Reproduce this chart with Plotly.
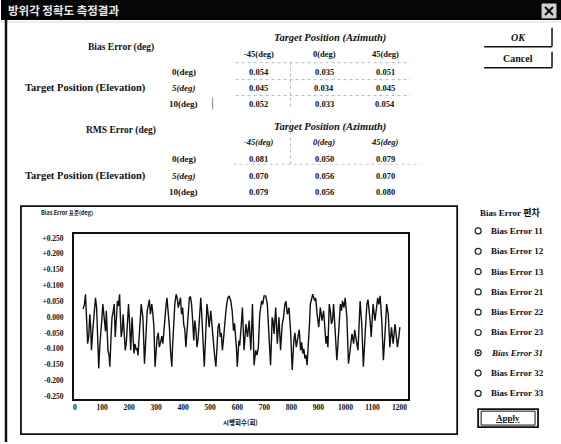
import plotly.graph_objects as go

# ---------------- data ----------------
title_text = "방위각 정확도 측정결과"
azimuth_labels = ["-45(deg)", "0(deg)", "45(deg)"]
elevation_labels = ["0(deg)", "5(deg)", "10(deg)"]
bias_values = [[0.054, 0.035, 0.051],
               [0.045, 0.034, 0.045],
               [0.052, 0.033, 0.054]]
rms_values = [[0.081, 0.050, 0.079],
              [0.070, 0.056, 0.070],
              [0.079, 0.056, 0.080]]
radio_labels = ["Bias Error 11", "Bias Error 12", "Bias Error 13",
                "Bias Error 21", "Bias Error 22", "Bias Error 23",
                "Bias Error 31", "Bias Error 32", "Bias Error 33"]
selected_radio = "Bias Error 31"

# main turning points
trial_x = [30, 39, 47, 55, 61, 76, 83, 88, 96, 103, 110, 116, 122, 129, 137, 145, 149, 157, 165, 171,
           178, 186, 194, 198, 206, 211, 218, 227, 233, 239, 245, 251, 257, 263, 272, 279, 284, 292, 296, 304,
           312, 318, 325, 333, 340, 345, 353, 358, 365, 374, 382, 390, 394, 402, 410, 416, 423, 431, 439, 443,
           451, 459, 465, 472, 478, 488, 496, 502, 512, 521, 529, 537, 545, 554, 561, 570, 576, 586, 594, 600,
           606, 613, 619, 625, 632, 638, 644, 650, 656, 662, 668, 678, 683, 690, 699, 705, 711, 717, 723, 729,
           736, 742, 748, 754, 760, 766, 776, 785, 791, 797, 803, 809, 818, 825, 834, 842, 850, 858, 864, 870,
           879, 886, 895, 901, 907, 913, 919, 928, 935, 940, 948, 956, 962, 968, 975, 981, 989, 999, 1005, 1011,
           1017, 1024, 1030, 1038, 1046, 1054, 1060, 1066, 1072, 1079, 1087, 1095, 1102, 1109, 1119, 1128, 1134, 1140, 1146, 1152,
           1158, 1164, 1170, 1176, 1183, 1192, 1201]
bias_error = [0.025, 0.072, -0.084, 0.009, -0.105, 0.061, -0.053, -0.162, -0.022, 0.041, -0.032, 0.020, -0.105, -0.157, -0.001, 0.041, -0.063, 0.051, 0.072, -0.063,
              0.009, -0.105, -0.032, 0.041, -0.105, -0.001, -0.115, -0.105, -0.121, -0.043, 0.041, -0.001, -0.147, -0.022, 0.041, 0.009, 0.041, -0.032, -0.157, -0.063,
              -0.095, -0.074, -0.084, -0.001, 0.061, 0.020, -0.105, -0.157, -0.001, 0.072, 0.030, 0.061, 0.009, -0.022, -0.095, -0.001, 0.061, 0.041, -0.074, -0.011,
              -0.095, -0.022, 0.061, -0.063, -0.157, 0.041, -0.032, 0.020, -0.095, -0.157, -0.032, -0.063, -0.105, -0.001, 0.041, 0.067, 0.051, -0.043, -0.053, -0.157,
              -0.074, -0.053, 0.030, -0.105, -0.022, -0.063, -0.011, -0.105, 0.041, -0.152, -0.105, -0.095, 0.009, 0.051, 0.067, 0.067, 0.041, -0.043, -0.152, -0.001,
              -0.053, 0.030, -0.084, -0.001, -0.105, -0.022, 0.041, 0.009, 0.030, -0.043, -0.167, -0.074, -0.095, -0.063, -0.105, -0.115, -0.131, -0.152, -0.084, 0.041,
              0.072, 0.051, 0.009, -0.032, 0.030, -0.011, 0.020, -0.084, -0.095, 0.041, -0.022, 0.041, -0.043, -0.136, -0.032, 0.041, 0.051, 0.061, -0.001, -0.147,
              -0.105, -0.053, -0.084, -0.063, -0.105, 0.051, -0.022, -0.157, -0.063, 0.041, 0.030, -0.063, 0.041, -0.011, 0.061, 0.067, -0.011, -0.136, -0.053, 0.041,
              0.009, -0.095, -0.032, -0.084, -0.022, -0.095, -0.032]

# finer wiggles read between the turning points
detail_x = [35, 43, 51, 58, 66, 71, 80, 86, 92, 100, 107, 113, 119, 126, 133, 141, 153, 161, 168, 175,
            182, 190, 202, 215, 222, 230, 236, 242, 248, 254, 260, 267, 275, 288, 300, 308, 321, 329, 336, 349,
            361, 369, 378, 386, 398, 406, 413, 419, 427, 435, 447, 455, 462, 468, 475, 483, 492, 507, 516, 525,
            533, 541, 549, 557, 565, 581, 590, 597, 609, 616, 622, 628, 647, 653, 659, 673, 694, 714, 720, 726,
            732, 745, 757, 771, 780, 800, 813, 829, 838, 846, 854, 867, 874, 890, 923, 931, 944, 952, 971, 985,
            994, 1020, 1034, 1042, 1050, 1063, 1075, 1083, 1091, 1114, 1123, 1187, 1196]
detail_error = [0.040, 0.010, -0.060, -0.030, -0.040, 0.020, 0.030, -0.120, -0.090, 0.000, 0.010, -0.045, -0.030, -0.120, -0.070, 0.015, -0.010, 0.035, 0.000, -0.040,
                -0.050, -0.080, -0.020, -0.060, -0.085, -0.098, -0.080, 0.000, 0.020, -0.070, -0.100, 0.020, 0.055, 0.010, -0.110, -0.050, -0.060, -0.030, 0.030, -0.030,
                -0.090, 0.040, 0.060, 0.045, 0.030, -0.040, -0.060, 0.030, 0.065, -0.010, -0.040, -0.070, 0.010, 0.020, -0.100, -0.060, 0.010, -0.030, -0.120, -0.090,
                -0.020, -0.050, -0.070, 0.010, 0.060, 0.020, -0.020, -0.100, -0.090, -0.010, -0.040, -0.070, -0.060, -0.040, -0.050, -0.120, 0.040, 0.000, -0.090, -0.080,
                -0.010, -0.020, -0.040, 0.000, 0.050, -0.100, -0.050, -0.040, -0.080, -0.100, -0.120, -0.020, 0.055, 0.060, -0.020, -0.060, 0.020, -0.010, -0.100, 0.020,
                0.030, -0.080, -0.040, -0.090, -0.030, -0.090, -0.010, 0.055, -0.010, 0.020, 0.040, -0.050, -0.070]

y_tick_vals = [0.25, 0.2, 0.15, 0.1, 0.05, 0.0, -0.05, -0.1, -0.15, -0.2, -0.25]
y_tick_text = ["+0.250", "+0.200", "+0.150", "+0.100", "+0.050", "0.000",
               "-0.050", "-0.100", "-0.150", "-0.200", "-0.250"]
x_tick_vals = [0, 100, 200, 300, 400, 500, 600, 700, 800, 900, 1000, 1100, 1200]

points = sorted(zip(trial_x + detail_x, bias_error + detail_error))
line_x = [p[0] for p in points]
line_y = [p[1] for p in points]

# ---------------- layout helpers ----------------
W, H = 561, 444
def fx(p):
    return p / W
def fy(p):
    return 1 - p / H

SERIF = "Liberation Serif, Noto Sans CJK KR, serif"
KFONT = "Noto Sans CJK KR, Liberation Serif, sans-serif"

fig = go.Figure()
fig.add_trace(go.Scatter(x=line_x, y=line_y, mode="lines",
                         line=dict(color="#111111", width=1.4), hoverinfo="skip"))

ann = []
shapes = []

def text(x, y, s, size=9, anchor="center", color="#111", family=SERIF, bold=True, italic=False):
    t = s
    if bold:
        t = "<b>" + t + "</b>"
    if italic:
        t = "<i>" + t + "</i>"
    ann.append(dict(x=fx(x), y=fy(y), xref="paper", yref="paper", text=t, showarrow=False,
                    xanchor=anchor, yanchor="middle", font=dict(size=size, color=color, family=family)))

def line(x0, y0, x1, y1, color="#111", width=1.5, dash="solid"):
    shapes.append(dict(type="line", xref="paper", yref="paper", x0=fx(x0), y0=fy(y0), x1=fx(x1), y1=fy(y1),
                       line=dict(color=color, width=width, dash=dash)))

def rect(x0, y0, x1, y1, fill="rgba(0,0,0,0)", color="#111", width=1.5):
    shapes.append(dict(type="rect", xref="paper", yref="paper", x0=fx(x0), y0=fy(y0), x1=fx(x1), y1=fy(y1),
                       fillcolor=fill, line=dict(color=color, width=width)))

# title bar
rect(0, 0, W, 20, fill="#050505", color="#050505", width=0)
text(5, 10, title_text, size=11.5, anchor="left", color="#e8e8e8", family=KFONT, bold=True)
rect(542, 4, 556, 18, fill="#d0d0d0", color="#d0d0d0", width=1)
line(545, 7, 553, 15, color="#111", width=2)
line(553, 7, 545, 15, color="#111", width=2)
line(0, 22, W, 22, color="#d8d8d8", width=1)

# dialog left border
line(5, 20, 5, 444, width=2.5)

# column positions
col_x = [258, 324, 385]

# Bias table
text(330, 38, "Target Position (Azimuth)", size=10.5, italic=True)
text(120, 48, "Bias Error (deg)", size=9.5)
for i, lab in enumerate(azimuth_labels):
    text(col_x[i], 54, lab, size=8.5)
row_y_b = [72, 88, 104]
text(85, 88, "Target Position (Elevation)", size=10.5)
for r, lab in enumerate(elevation_labels):
    text(183, row_y_b[r], lab, size=9, italic=(r == 1))
    for c in range(3):
        text(col_x[c], row_y_b[r], f"{bias_values[r][c]:.3f}", size=8.5)

# RMS table
text(330, 128, "Target Position (Azimuth)", size=10.5, italic=True)
text(120, 131, "RMS Error (deg)", size=9.5)
for i, lab in enumerate(azimuth_labels):
    text(col_x[i], 143, lab, size=8.5, italic=True)
row_y_r = [160, 177, 193]
text(85, 177, "Target Position (Elevation)", size=10.5)
for r, lab in enumerate(elevation_labels):
    text(183, row_y_r[r], lab, size=9, italic=(r == 1))
    for c in range(3):
        text(col_x[c], row_y_r[r], f"{rms_values[r][c]:.3f}", size=8.5)

# faint table separators
for yy in [63, 80, 96]:
    line(235, yy, 410, yy, color="#b8b8b8", width=1, dash="dot")
line(290, 62, 290, 110, color="#b8b8b8", width=1, dash="dot")
line(212, 98, 212, 110, color="#888", width=1)
line(290, 120, 290, 165, color="#b8b8b8", width=1, dash="dot")
line(233, 165, 420, 165, color="#c8c8c8", width=1, dash="dot")

# buttons
line(484, 47, 552, 47, width=1.5)
line(552, 28, 552, 47, width=1.5)
text(518, 38, "OK", size=10, italic=True)
line(484, 68, 552, 68, width=1.5)
line(552, 52, 552, 68, width=1.5)
text(518, 59, "Cancel", size=10)

# chart outer frame
rect(20, 207, 457, 436, width=1.8)
text(38, 214, "Bias Error 표준(deg)", size=5.5, anchor="left", family=KFONT)
text(240, 424, "시행회수(회)", size=6.5, family=KFONT)

# radio group
text(478, 213, "Bias Error 편차", size=9, anchor="left")
radio_y0, radio_dy = 232, 20.4
for i, lab in enumerate(radio_labels):
    yy = radio_y0 + i * radio_dy
    shapes.append(dict(type="circle", xref="paper", yref="paper",
                       x0=fx(475), x1=fx(481), y0=fy(yy + 3), y1=fy(yy - 3),
                       line=dict(color="#222", width=1.2)))
    if lab == selected_radio:
        shapes.append(dict(type="circle", xref="paper", yref="paper",
                           x0=fx(477), x1=fx(479), y0=fy(yy + 1), y1=fy(yy - 1),
                           fillcolor="#111", line=dict(color="#111", width=0.5)))
    text(489, yy, lab, size=9, anchor="left", italic=(lab == selected_radio))

# Apply button
rect(478, 411, 538, 429, width=1.8)
rect(481, 413, 535, 427, width=1)
text(508, 420, "<u>Apply</u>", size=9)

tick_font = dict(size=7.5, family=SERIF, color="#111", weight="bold")
fig.update_layout(
    width=W, height=H,
    margin=dict(l=0, r=0, t=0, b=0),
    paper_bgcolor="white", plot_bgcolor="white",
    showlegend=False,
    annotations=ann, shapes=shapes,
    xaxis=dict(domain=[fx(73), fx(408)], range=[-4, 1232], showgrid=False, zeroline=False,
               showline=True, mirror=True, linecolor="#111", linewidth=1.5,
               tickvals=x_tick_vals, ticks="", tickfont=tick_font),
    yaxis=dict(domain=[fy(401), fy(235)], range=[-0.2594, 0.2626], showgrid=False, zeroline=False,
               showline=True, mirror=True, linecolor="#111", linewidth=1.5,
               tickvals=y_tick_vals, ticktext=y_tick_text, ticks="", ticklabelstandoff=7,
               tickfont=tick_font),
)

fig.write_html("out.html", config={"displayModeBar": False},
               post_script="document.body.style.margin='0px';document.body.style.overflow='hidden';")
